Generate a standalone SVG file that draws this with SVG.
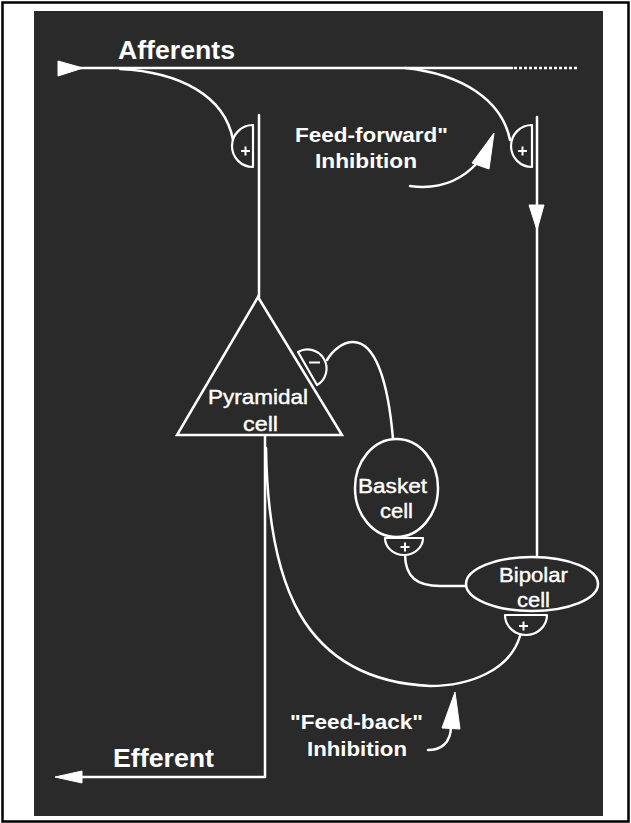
<svg xmlns="http://www.w3.org/2000/svg" width="631" height="823" viewBox="0 0 631 823">
  <style>
    .wire { fill: none; stroke: #ffffff; stroke-width: 2.5; stroke-linecap: round; stroke-linejoin: round; }
    .soma { fill: #2a2a2a; stroke: #ffffff; stroke-width: 2.5; }
    .syn { fill: #2a2a2a; stroke: #ffffff; stroke-width: 2.2; stroke-linejoin: round; }
    .sign { fill: none; stroke: #ffffff; stroke-width: 2; }
    .head { fill: #ffffff; stroke: #ffffff; stroke-width: 1; stroke-linejoin: round; }
    .big { font-family: "Liberation Sans", Arial, sans-serif; font-weight: bold; font-size: 26px; fill: #ffffff; }
    .note { font-family: "Liberation Sans", Arial, sans-serif; font-weight: bold; font-size: 21px; fill: #ffffff; }
    .cell { font-family: "Liberation Sans", Arial, sans-serif; font-size: 21px; fill: #ffffff; stroke: #ffffff; stroke-width: 0.4; }
  </style>

  <!-- page and panel -->
  <rect x="0" y="0" width="631" height="823" fill="#ffffff"/>
  <rect x="2.5" y="2.5" width="626" height="819" fill="none" stroke="#000000" stroke-width="2.5"/>
  <rect x="34" y="11" width="569" height="805" fill="#2a2a2a"/>

  <!-- connectors -->
  <g id="connectors">
    <!-- afferent fibre -->
    <polygon class="head" points="58,61 58,76 83,68"/>
    <line class="wire" x1="80" y1="68" x2="512" y2="68" stroke-width="3"/>
    <line x1="514" y1="68" x2="577" y2="68" stroke="#ffffff" stroke-width="2.5" stroke-dasharray="3,2"/>
    <!-- branch to pyramidal dendrite -->
    <path class="wire" d="M120,69 C180,72 225,96 233,140"/>
    <!-- branch to bipolar dendrite -->
    <path class="wire" d="M405,68 C462,74 502,100 510,140"/>
    <!-- pyramidal apical dendrite -->
    <line class="wire" x1="259" y1="115" x2="259" y2="297"/>
    <!-- bipolar dendrite with arrow -->
    <line class="wire" x1="537" y1="117" x2="537" y2="557"/>
    <polygon class="head" points="529,205 544,205 537,230"/>
    <!-- pyramidal axon to efferent -->
    <polyline class="wire" points="265,435 265,777 80,777"/>
    <polygon class="head" points="55,777 82,771 82,783"/>
    <!-- axon collateral (feed-back loop) -->
    <path class="wire" d="M266,448 C268,580 300,680 430,686 C470,686 510,670 520,636"/>
    <!-- basket axon to pyramidal (inhibitory) -->
    <path class="wire" d="M327,360 C333,350 343,342 353,342 C375,342 388,380 393,439"/>
    <!-- bipolar to basket -->
    <path class="wire" d="M405,554 C405,578 418,586 440,586 L467,586"/>
    <!-- curved label arrows -->
    <path class="wire" d="M410,186 C440,190 462,180 478,162" stroke-width="3"/>
    <polygon class="head" points="494,133 472,163 489,169"/>
    <path class="wire" d="M428,750 C440,750 451,744 451,726" stroke-width="3"/>
    <polygon class="head" points="455,692 442,728 460,729"/>
  </g>

  <!-- synapses -->
  <g id="synapse-ff-pyramidal">
    <path class="syn" d="M253,125 A21,21 0 0 0 253,167 Z"/>
    <path class="sign" d="M241,151 H250 M245.5,146.5 V155.5"/>
  </g>
  <g id="synapse-ff-bipolar">
    <path class="syn" d="M532,125 A21,21 0 0 0 532,167 Z"/>
    <path class="sign" d="M518,151 H527 M522.5,146.5 V155.5"/>
  </g>
  <g id="synapse-basket-pyramidal">
    <path class="syn" d="M298,352 A19,19 0 0 1 317,385 Z"/>
    <path class="sign" d="M309,362.5 H320"/>
  </g>
  <g id="synapse-bipolar-basket">
    <path class="syn" d="M385,538 A19,17 0 0 0 423,538 Z"/>
    <path class="sign" d="M400.5,547 H409.5 M405,542.5 V551.5"/>
  </g>
  <g id="synapse-collateral-bipolar">
    <path class="syn" d="M505,615 A21,20 0 0 0 547,615 Z"/>
    <path class="sign" d="M519,626 H528 M523.5,621.5 V630.5"/>
  </g>

  <!-- cells -->
  <g id="pyramidal-cell">
    <polygon class="soma" points="258,297 177,435 342,435"/>
    <text class="cell" x="208" y="404" textLength="100" lengthAdjust="spacingAndGlyphs">Pyramidal</text>
    <text class="cell" x="243" y="431" textLength="35" lengthAdjust="spacingAndGlyphs">cell</text>
  </g>
  <g id="basket-cell">
    <ellipse class="soma" cx="396.5" cy="488" rx="41.5" ry="49"/>
    <text class="cell" x="358" y="493" textLength="69" lengthAdjust="spacingAndGlyphs">Basket</text>
    <text class="cell" x="380" y="518" textLength="33" lengthAdjust="spacingAndGlyphs">cell</text>
  </g>
  <g id="bipolar-cell">
    <ellipse class="soma" cx="532" cy="584" rx="66" ry="27"/>
    <text class="cell" x="499" y="582" textLength="69" lengthAdjust="spacingAndGlyphs">Bipolar</text>
    <text class="cell" x="517" y="607" textLength="33" lengthAdjust="spacingAndGlyphs">cell</text>
  </g>

  <!-- labels -->
  <g id="labels">
    <text class="big" x="118" y="59" textLength="117" lengthAdjust="spacingAndGlyphs">Afferents</text>
    <text class="big" x="113" y="767" textLength="101" lengthAdjust="spacingAndGlyphs">Efferent</text>
    <text class="note" x="295" y="142" textLength="153" lengthAdjust="spacingAndGlyphs">Feed-forward"</text>
    <text class="note" x="315" y="168" textLength="102" lengthAdjust="spacingAndGlyphs">Inhibition</text>
    <text class="note" x="290" y="729" textLength="133" lengthAdjust="spacingAndGlyphs">"Feed-back"</text>
    <text class="note" x="307" y="756" textLength="100" lengthAdjust="spacingAndGlyphs">Inhibition</text>
  </g>
</svg>
